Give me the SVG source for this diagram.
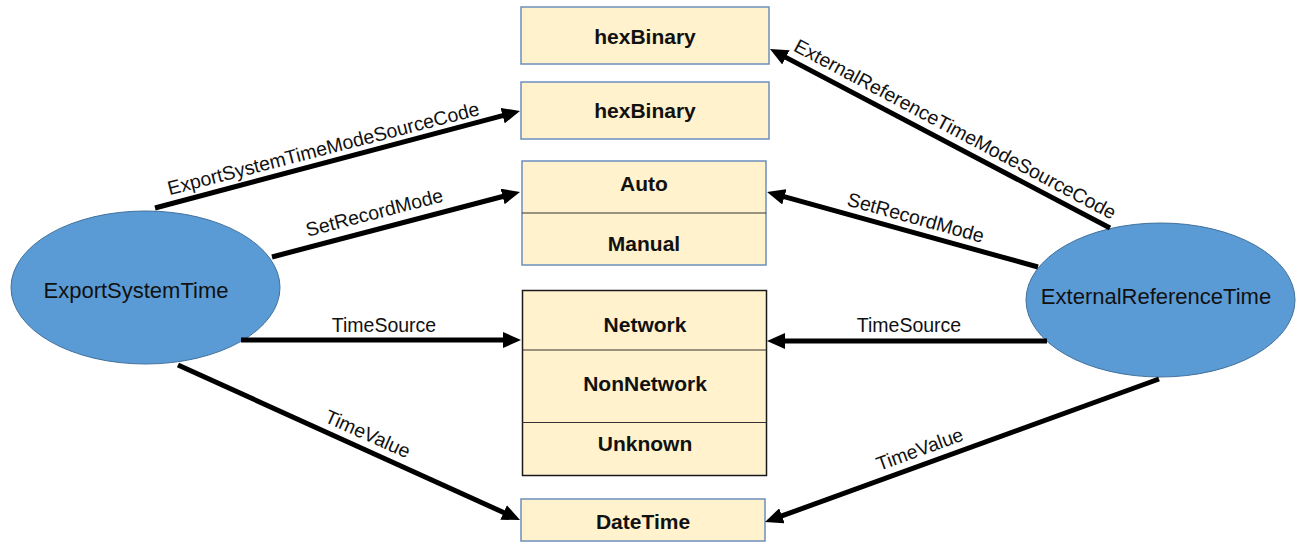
<svg xmlns="http://www.w3.org/2000/svg" width="1296" height="542" viewBox="0 0 1296 542">
<style>
.box{fill:#FFF2CC;stroke:#6C8EBF;stroke-width:1.5}
.boxd{fill:#FFF2CC;stroke:#1a1a1a;stroke-width:1.5}
.div{stroke:#333;stroke-width:1}
.btxt{font-family:"Liberation Sans",Arial,sans-serif;font-weight:bold;font-size:21px;fill:#111;text-anchor:middle}
.ell{fill:#5B9BD5;stroke:#41719C;stroke-width:1}
.etxt{font-family:"Liberation Sans",Arial,sans-serif;font-size:22px;fill:#111;text-anchor:middle}
.con{stroke:#000;stroke-width:5;fill:none;marker-end:url(#ah)}
.lbl{font-family:"Liberation Sans",Arial,sans-serif;font-size:19.5px;fill:#111;text-anchor:middle}
</style>
<defs>
<marker id="ah" markerUnits="userSpaceOnUse" markerWidth="18" markerHeight="16" refX="6" refY="8" orient="auto" viewBox="0 0 18 16">
<path d="M0,0 L18,8 L0,16 z" fill="#000"/>
</marker>
</defs>
<rect width="1296" height="542" fill="#fff"/>

<g id="hexBinary1"><rect class="box" x="521" y="7" width="248" height="57"/><text class="btxt" x="645" y="44">hexBinary</text></g>
<g id="hexBinary2"><rect class="box" x="521" y="82" width="248" height="57"/><text class="btxt" x="645" y="118">hexBinary</text></g>
<g id="recordMode"><rect class="box" x="522" y="161" width="244" height="104"/><line class="div" x1="522" y1="213" x2="766" y2="213"/><text class="btxt" x="644" y="191">Auto</text><text class="btxt" x="644" y="251">Manual</text></g>
<g id="timeSource"><rect class="boxd" x="522.5" y="290.5" width="244" height="185"/><line class="div" x1="522.5" y1="350" x2="766.5" y2="350"/><line class="div" x1="522.5" y1="422.5" x2="766.5" y2="422.5"/><text class="btxt" x="645" y="332">Network</text><text class="btxt" x="645" y="391">NonNetwork</text><text class="btxt" x="645" y="451">Unknown</text></g>
<g id="dateTime"><rect class="box" x="521" y="499" width="244" height="42"/><text class="btxt" x="643" y="528.5">DateTime</text></g>

<g id="ExportSystemTime"><ellipse class="ell" cx="145.5" cy="287.5" rx="134.5" ry="76.5"/><text class="etxt" x="136" y="298">ExportSystemTime</text></g>
<g id="ExternalReferenceTime"><ellipse class="ell" cx="1160.5" cy="300" rx="134.5" ry="77"/><text class="etxt" x="1156" y="304">ExternalReferenceTime</text></g>

<g id="connectors">
<line class="con" x1="155" y1="208" x2="508.4" y2="114.1"/>
<line class="con" x1="272" y1="257" x2="508.4" y2="195"/>
<line class="con" x1="241" y1="340" x2="509" y2="340"/>
<line class="con" x1="178" y1="365" x2="509.1" y2="515"/>
<line class="con" x1="1110" y1="228" x2="780.6" y2="54.6"/>
<line class="con" x1="1038" y1="267" x2="778.6" y2="195.2"/>
<line class="con" x1="1047" y1="341" x2="779" y2="341"/>
<line class="con" x1="1159" y1="379" x2="776.3" y2="517.9"/>
<text class="lbl" transform="translate(325,155) rotate(-14.5)">ExportSystemTimeModeSourceCode</text>
<text class="lbl" transform="translate(376,219) rotate(-14.5)">SetRecordMode</text>
<text class="lbl" transform="translate(384,332)">TimeSource</text>
<text class="lbl" transform="translate(365,440) rotate(24)">TimeValue</text>
<text class="lbl" transform="translate(952,135) rotate(28)">ExternalReferenceTimeModeSourceCode</text>
<text class="lbl" transform="translate(914,224) rotate(15.5)">SetRecordMode</text>
<text class="lbl" transform="translate(909,332)">TimeSource</text>
<text class="lbl" transform="translate(922,455.5) rotate(-20)">TimeValue</text>
</g>
</svg>
